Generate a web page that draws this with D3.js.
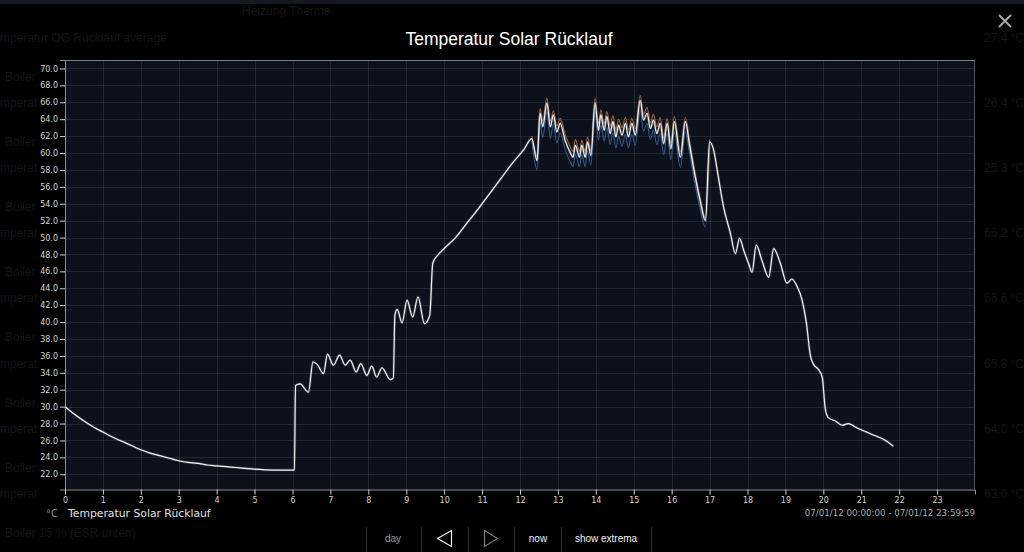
<!DOCTYPE html>
<html><head><meta charset="utf-8">
<script src="https://cdn.jsdelivr.net/npm/d3@7"></script>
<style>html,body{margin:0;padding:0;background:#000;}svg{display:block;}</style>
</head><body>
<svg id="chart" width="1024" height="552"></svg>
<script>
// ---- data ----
const chartTitle = "Temperatur Solar Rücklauf";
const unitLabel = "°C";
const seriesName = "Temperatur Solar Rücklauf";
const dateRange = "07/01/12 00:00:00 - 07/01/12 23:59:59";
const xTicks = d3.range(0, 24);
const yTicks = [22,24,26,28,30,32,34,36,38,40,42,44,46,48,50,52,54,56,58,60,62,64,66,68,70];
const buttons = ["day", "now", "show extrema"];

const mainHours = [0,0.25,0.5,0.75,1,1.25,1.5,1.75,2,2.25,2.5,2.75,3,3.25,3.5,3.75,4,4.25,4.5,4.75,5,5.5,6,6.05,
  6.08,6.2,6.42,6.54,6.65,6.82,6.92,7.08,7.24,7.39,7.52,7.68,7.8,7.96,8.09,8.22,8.36,8.58,8.66,
  8.7,8.76,8.89,9.02,9.17,9.31,9.48,9.62,9.7,9.85,10,10.3,10.6,10.9,11.2,11.5,11.8,12.1,
  12.31,12.45,12.53,12.6,12.71,12.8,12.88,12.97,13.06,13.19,13.32,13.4,13.46,13.57,13.63,13.72,13.78,13.87,
  13.98,14.07,14.13,14.22,14.29,14.38,14.45,14.53,14.6,14.69,14.78,14.86,14.95,15.04,
  15.17,15.26,15.35,15.44,15.52,15.61,15.7,15.79,15.88,15.98,16.07,16.23,16.36,16.47,16.62,16.75,16.89,
  17,17.11,17.2,17.37,17.55,17.68,17.79,17.9,18.03,18.12,18.23,18.38,18.56,18.69,18.87,19.04,19.17,19.31,19.44,
  19.55,19.66,19.74,19.87,19.97,20.05,20.13,20.32,20.5,20.66,20.84,21.24,21.64,21.85];
const mainTemps = [30.0,29.1,28.3,27.6,27.0,26.4,25.9,25.4,24.9,24.5,24.2,23.9,23.6,23.4,23.3,23.1,23.0,22.9,22.8,22.7,22.6,22.5,22.5,22.5,
  32.5,32.7,31.7,35.3,35.0,33.9,36.2,34.9,36.1,34.9,35.5,34.1,35.1,33.7,34.8,33.5,34.6,33.2,33.4,
  40.8,41.5,39.9,42.6,40.6,43.0,39.8,40.8,47.0,48.0,48.7,50.0,51.7,53.4,55.2,57.0,58.8,60.4,
  61.7,59.1,64.7,63.1,65.9,63.1,64.5,62.5,63.5,61.5,60.1,59.5,60.9,59.5,60.9,59.5,61.3,59.7,
  65.9,62.7,64.5,62.7,64.3,62.3,63.7,61.9,63.3,62.1,63.5,61.9,63.5,62.1,
  66.2,63.9,64.7,62.9,63.9,62.3,63.5,61.1,63.5,60.5,63.7,59.5,63.7,61.0,57.2,54.4,52.0,
  61.3,60.3,58.0,53.6,50.5,48.1,49.9,48.5,46.9,45.9,49.1,47.3,45.3,48.7,46.9,44.6,45.1,44.2,42.6,
  40.0,36.0,35.0,34.4,33.5,29.8,28.7,28.3,27.8,28.0,27.6,26.8,26.0,25.3];

const extHours = [12.31,12.45,12.53,12.6,12.71,12.8,12.88,12.97,13.06,13.19,13.32,13.4,13.46,13.57,13.63,13.72,13.78,13.87,
  13.98,14.07,14.13,14.22,14.29,14.38,14.45,14.53,14.6,14.69,14.78,14.86,14.95,15.04,
  15.17,15.26,15.35,15.44,15.52,15.61,15.7,15.79,15.88,15.98,16.07,16.23,16.36,16.47,16.62,16.75,16.89,17];
const maxTemps = [62.0,59.6,65.3,63.8,66.5,63.8,65.0,63.2,64.1,62.2,60.8,60.2,61.6,60.2,61.5,60.2,61.9,60.3,
  66.5,63.5,65.1,63.5,64.9,63.2,64.4,62.8,64.0,63.0,64.2,62.8,64.1,62.9,
  66.8,64.6,65.4,63.6,64.6,63.1,64.2,61.8,64.1,61.2,64.3,60.2,64.2,61.5,57.6,54.6,52.3,61.6];
const minTemps = [61.4,58.0,63.6,61.8,64.9,61.7,63.4,61.2,62.4,60.4,59.0,58.4,59.8,58.4,59.8,58.4,60.2,58.6,
  64.9,61.5,63.3,61.4,63.0,61.0,62.4,60.6,62.0,60.8,62.2,60.6,62.2,60.9,
  65.0,62.6,63.5,61.6,62.7,61.0,62.3,59.8,62.3,59.2,62.5,58.3,62.5,60.0,56.2,53.4,51.2,60.8];

// faint background page text (dimmed behind the overlay)
const bgLeftA = ["mperatur OG Rücklauf average","mperat","mperat","mperat","mperat","mperat","mperat","mperat"];
const bgLeftB = ["Boiler","Boiler","Boiler","Boiler","Boiler","Boiler","Boiler","Boiler 15 % (ESR unten)"];
const bgRight = ["27.4 °C","26.4 °C","25.3 °C","66.2 °C","66.6 °C","65.8 °C","64.0 °C","63.0 °C"];

// ---- drawing ----
const svg = d3.select("#chart");
const W = 1024, H = 552;
const L = 65, R = 975, T = 60, B = 489.5;

svg.append("rect").attr("width", W).attr("height", H).attr("fill", "#000");
svg.append("rect").attr("width", W).attr("height", 4).attr("fill", "#15181d");

// background faint text
const bg = svg.append("g").attr("font-family", "Liberation Sans, Arial, sans-serif").attr("fill", "#141414").attr("font-size", 12);
bg.append("text").attr("x", 242).attr("y", 15).text("Heizung Therme");
bgLeftA.forEach((t, i) => bg.append("text").attr("x", 0).attr("y", 42 + i * 65.1).text(t));
bgLeftB.forEach((t, i) => bg.append("text").attr("x", 5).attr("y", 81 + i * 65.1).text(t));
bgRight.forEach((t, i) => bg.append("text").attr("x", 984).attr("y", 42 + i * 65.1).text(t));

const x = d3.scaleLinear().domain([0, 24]).range([L, R]);
const y = d3.scaleLinear().domain([20.2, 71.0]).range([B, T]);

// plot background
svg.append("rect").attr("x", L).attr("y", T).attr("width", R - L).attr("height", B - T).attr("fill", "#0d111b");

// grid
const grid = svg.append("g").attr("stroke", "#ffffff").attr("stroke-opacity", 0.09).attr("stroke-width", 1);
yTicks.forEach(v => grid.append("line").attr("x1", L).attr("x2", R).attr("y1", Math.round(y(v)) + 0.5).attr("y2", Math.round(y(v)) + 0.5));
xTicks.forEach(v => { if (v > 0) grid.append("line").attr("y1", T).attr("y2", B).attr("x1", Math.round(x(v)) + 0.5).attr("x2", Math.round(x(v)) + 0.5); });

// border top/right
svg.append("line").attr("x1", L).attr("x2", R).attr("y1", T + 0.5).attr("y2", T + 0.5).attr("stroke", "#7a7e86");
svg.append("line").attr("x1", R - 0.5).attr("x2", R - 0.5).attr("y1", T).attr("y2", B).attr("stroke", "#50545c");

// axes
const yAxis = d3.axisLeft(y).tickValues(yTicks).tickFormat(d3.format(".1f")).tickSize(5).tickPadding(2);
const gy = svg.append("g").attr("transform", `translate(${L},0)`).call(yAxis);
const xAxis = d3.axisBottom(x).tickValues(xTicks).tickFormat(d3.format("d")).tickSize(5).tickPadding(3);
const gx = svg.append("g").attr("transform", `translate(0,${B})`).call(xAxis);
[gx, gy].forEach(g => {
  g.select(".domain").attr("stroke", "#8a8e96");
  g.selectAll(".tick line").attr("stroke", "#d0d0d0");
  g.selectAll(".tick text").attr("fill", "#d4d4d4").attr("font-family", "DejaVu Sans, sans-serif").attr("font-size", 8);
});

// lines
const line = d3.line().x(d => x(d[0])).y(d => y(d[1])).curve(d3.curveMonotoneX);
svg.append("clipPath").attr("id", "clip").append("rect").attr("x", L).attr("y", T).attr("width", R - L).attr("height", B - T);
const plot = svg.append("g").attr("clip-path", "url(#clip)");
plot.append("path").datum(d3.zip(extHours, minTemps)).attr("d", line)
  .attr("fill", "none").attr("stroke", "#2f5a90").attr("stroke-width", 1.1);
plot.append("path").datum(d3.zip(extHours, maxTemps)).attr("d", line)
  .attr("fill", "none").attr("stroke", "#a0653a").attr("stroke-width", 1.1);
plot.append("path").datum(d3.zip(mainHours, mainTemps)).attr("d", line)
  .attr("fill", "none").attr("stroke", "#9aa0aa").attr("stroke-width", 2.6).attr("stroke-opacity", 0.3);
plot.append("path").datum(d3.zip(mainHours, mainTemps)).attr("d", line)
  .attr("fill", "none").attr("stroke", "#f2f2f2").attr("stroke-width", 1.2);

// title
svg.append("text").attr("x", 509).attr("y", 45).attr("text-anchor", "middle")
  .attr("font-family", "Liberation Sans, Arial, sans-serif").attr("font-size", 17.5).attr("fill", "#ffffff").text(chartTitle);

// close X
const cx = 1005, cy = 21;
svg.append("path").attr("d", `M${cx-6},${cy-6}L${cx+6},${cy+6}M${cx+6},${cy-6}L${cx-6},${cy+6}`)
  .attr("stroke", "#a8a8a8").attr("stroke-width", 2);

// legend
svg.append("text").attr("x", 46).attr("y", 517).attr("font-family", "DejaVu Sans, sans-serif").attr("font-size", 10)
  .attr("fill", "#8a8a8a").text(unitLabel);
svg.append("text").attr("x", 68).attr("y", 517).attr("font-family", "DejaVu Sans, sans-serif").attr("font-size", 10.8)
  .attr("fill", "#e0e0e0").text(seriesName);
svg.append("text").attr("x", R).attr("y", 516).attr("text-anchor", "end").attr("font-family", "DejaVu Sans, sans-serif")
  .attr("font-size", 8.7).attr("fill", "#a8a8a8").text(dateRange);

// buttons bar
const seps = [366.5, 421.5, 468.5, 514.5, 561.5, 651.5];
seps.forEach(sx => svg.append("line").attr("x1", sx).attr("x2", sx).attr("y1", 527).attr("y2", 552).attr("stroke", "#2e2e2e"));
const bfont = "Liberation Sans, Arial, sans-serif";
svg.append("text").attr("x", 393).attr("y", 542).attr("text-anchor", "middle").attr("font-family", bfont).attr("font-size", 10).attr("fill", "#9a9a9a").text(buttons[0]);
svg.append("text").attr("x", 538).attr("y", 542).attr("text-anchor", "middle").attr("font-family", bfont).attr("font-size", 10).attr("fill", "#f0f0f0").text(buttons[1]);
svg.append("text").attr("x", 606).attr("y", 542).attr("text-anchor", "middle").attr("font-family", bfont).attr("font-size", 10).attr("fill", "#f0f0f0").text(buttons[2]);
svg.append("path").attr("d", "M437.5,538.5L451.5,530.5L451.5,546.5Z").attr("fill", "none").attr("stroke", "#f0f0f0").attr("stroke-width", 1.2);
svg.append("path").attr("d", "M484.5,530.5L497.5,538.5L484.5,546.5Z").attr("fill", "none").attr("stroke", "#7a7a7a").attr("stroke-width", 1.2);
</script>
</body></html>
